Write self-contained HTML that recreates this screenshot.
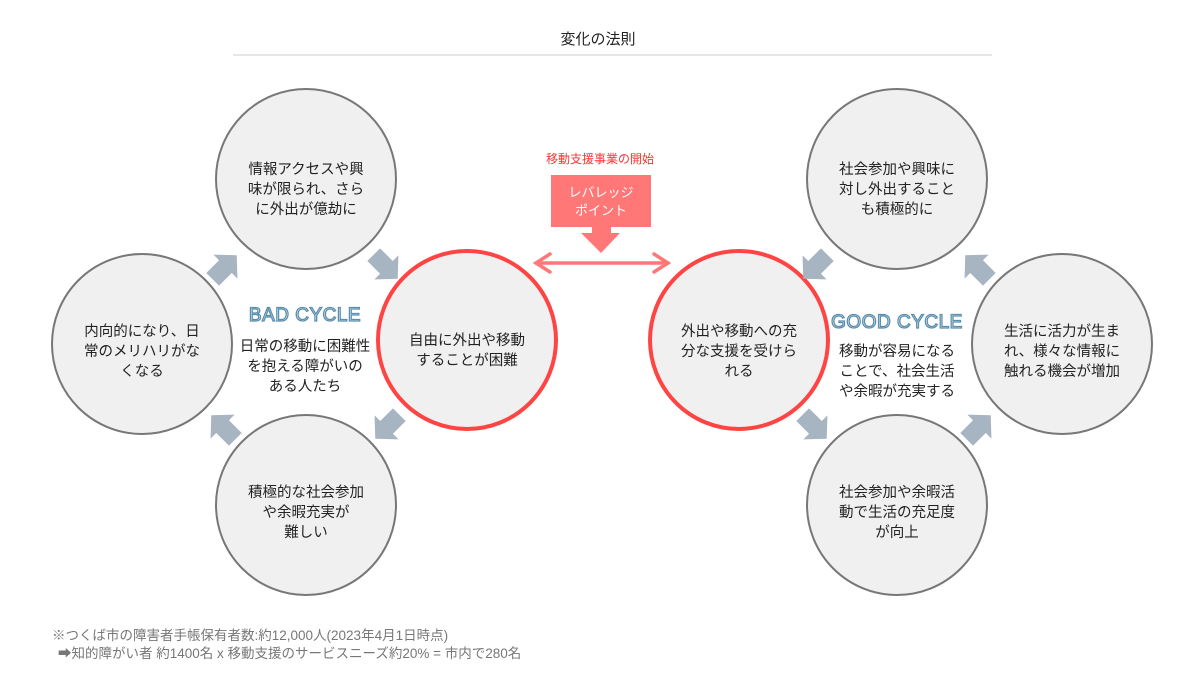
<!DOCTYPE html>
<html><head><meta charset="utf-8"><style>
body{margin:0;background:#fff}
svg text{font-family:"Liberation Sans","Noto Sans CJK JP",sans-serif}
</style></head><body>
<svg width="1200" height="675" viewBox="0 0 1200 675" xmlns="http://www.w3.org/2000/svg">
<defs>
<polygon id="ar" points="-16,-9 2,-9 2,-17 18,0 2,17 2,9 -16,9" fill="#a7b4c2"/>
</defs>
<text x="598" y="44" font-size="15" text-anchor="middle" fill="#222">変化の法則</text>
<line x1="233" y1="55" x2="992" y2="55" stroke="#ccc" stroke-width="1"/>

<g fill="#f0f0f0" stroke="#777" stroke-width="2">
<circle cx="306" cy="179" r="90"/>
<circle cx="142" cy="344" r="90"/>
<circle cx="306" cy="505" r="90"/>
<circle cx="897" cy="179" r="90"/>
<circle cx="1062" cy="344" r="90"/>
<circle cx="897" cy="505" r="90"/>
</g>
<g fill="#f0f0f0" stroke="#f44" stroke-width="4">
<circle cx="467" cy="340" r="89"/>
<circle cx="739" cy="340" r="89"/>
</g>

<use href="#ar" transform="translate(224,268) rotate(-45)"/>
<use href="#ar" transform="translate(385,266) rotate(45)"/>
<use href="#ar" transform="translate(388,426) rotate(135)"/>
<use href="#ar" transform="translate(224,428) rotate(-135)"/>
<use href="#ar" transform="translate(978,268) rotate(-135)"/>
<use href="#ar" transform="translate(816,266) rotate(135)"/>
<use href="#ar" transform="translate(814,426) rotate(45)"/>
<use href="#ar" transform="translate(978,428) rotate(-45)"/>

<g font-size="14.5" fill="#222" text-anchor="middle">
<text x="306" y="174">情報アクセスや興</text><text x="306" y="194">味が限られ、さら</text><text x="306" y="214">に外出が億劫に</text>
<text x="142" y="336">内向的になり、日</text><text x="142" y="356">常のメリハリがな</text><text x="142" y="376">くなる</text>
<text x="306" y="497">積極的な社会参加</text><text x="306" y="517">や余暇充実が</text><text x="306" y="537">難しい</text>
<text x="467" y="345">自由に外出や移動</text><text x="467" y="365">することが困難</text>
<text x="305" y="351">日常の移動に困難性</text><text x="305" y="371">を抱える障がいの</text><text x="305" y="391">ある人たち</text>
<text x="739" y="336">外出や移動への充</text><text x="739" y="356">分な支援を受けら</text><text x="739" y="376">れる</text>
<text x="897" y="356">移動が容易になる</text><text x="897" y="376">ことで、社会生活</text><text x="897" y="396">や余暇が充実する</text>
<text x="897" y="174">社会参加や興味に</text><text x="897" y="194">対し外出すること</text><text x="897" y="214">も積極的に</text>
<text x="1062" y="336">生活に活力が生ま</text><text x="1062" y="356">れ、様々な情報に</text><text x="1062" y="376">触れる機会が増加</text>
<text x="897" y="497">社会参加や余暇活</text><text x="897" y="517">動で生活の充足度</text><text x="897" y="537">が向上</text>
</g>
<g font-size="19" fill="#fff" stroke="#5b8fae" stroke-width="1.3" text-anchor="middle" letter-spacing="0.5">
<text x="305" y="321">BAD CYCLE</text>
<text x="897" y="328">GOOD CYCLE</text>
</g>

<text x="600" y="163" font-size="12" fill="#f33" text-anchor="middle">移動支援事業の開始</text>
<rect x="551" y="175" width="100" height="52" fill="#f77"/>
<text x="601" y="197" font-size="13" fill="#fff" text-anchor="middle">レバレッジ</text>
<text x="601" y="215" font-size="13" fill="#fff" text-anchor="middle">ポイント</text>
<polygon points="592,226 611,226 611,233 620,233 601,253 581,233 592,233" fill="#f77"/>
<g stroke="#f77" stroke-width="3.5" fill="none" stroke-linecap="round">
<line x1="536" y1="263" x2="668" y2="263"/>
<polyline points="550,254 536,263 550,272"/>
<polyline points="654,254 668,263 654,272"/>
</g>

<text x="52" y="640" font-size="13.5" fill="#777">※つくば市の障害者手帳保有者数:約12,000人(2023年4月1日時点)</text>
<text x="58" y="658" font-size="13.5" fill="#777">➡知的障がい者 約1400名 x 移動支援のサービスニーズ約20% = 市内で280名</text>
</svg>
</body></html>
